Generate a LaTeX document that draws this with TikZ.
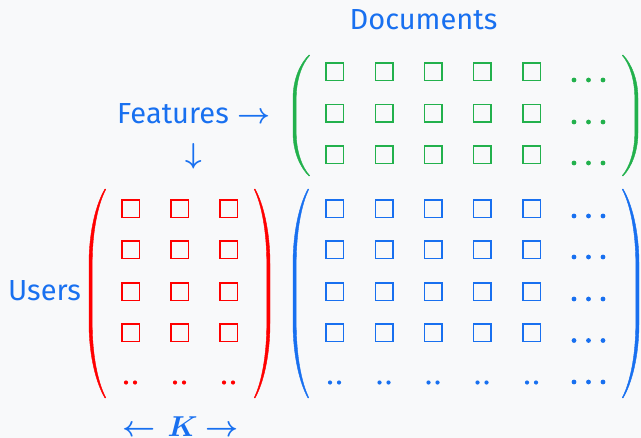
\documentclass[tikz,border=0pt]{standalone}
\usepackage{fontspec}
\setmainfont{Fira Sans}
\usepackage{bm}
\definecolor{bg}{HTML}{F8F9FA}
\definecolor{tblue}{RGB}{24,112,240}
\definecolor{tred}{RGB}{255,0,0}
\definecolor{tgreen}{RGB}{34,177,76}
\newcommand\mkparen[6]{% color, x of ends, x of extreme, y top, y bottom, signed thickness
  \fill[#1, draw=#1, line width=0.2pt, line join=round]
    (#2,#4) .. controls ({#2-0.55*(#2-#3)},{#4+0.07*(#5-#4)}) and (#3,{#4+0.2*(#5-#4)}) .. (#3,{#4+0.36*(#5-#4)})
    -- (#3,{#5-0.36*(#5-#4)})
    .. controls (#3,{#5-0.2*(#5-#4)}) and ({#2-0.55*(#2-#3)},{#5-0.07*(#5-#4)}) .. (#2,#5)
    -- ({#2+0.25*#6},{#5-0.3})
    .. controls ({#2-0.55*(#2-#3)+0.6*#6},{#5-0.07*(#5-#4)}) and ({#3+#6},{#5-0.2*(#5-#4)}) .. ({#3+#6},{#5-0.36*(#5-#4)})
    -- ({#3+#6},{#4+0.36*(#5-#4)})
    .. controls ({#3+#6},{#4+0.2*(#5-#4)}) and ({#2-0.55*(#2-#3)+0.6*#6},{#4+0.07*(#5-#4)}) .. ({#2+0.25*#6},{#4+0.3})
    -- cycle;}
\begin{document}
\begin{tikzpicture}[x=0.5pt,y=-0.5pt,
  lbl/.style={text=tblue, font=\fontsize{14.5}{17}\selectfont, inner sep=0pt, anchor=base},
  arr/.style={text=tblue, font=\fontsize{15.5}{17}\selectfont, inner sep=0pt, anchor=base},
  sq/.style={draw=#1, line width=0.75pt, minimum size=8.75pt, inner sep=0pt, shape=rectangle},
]
\fill[bg] (0,0) rectangle (641,438);
\useasboundingbox (0,0) rectangle (641,438);

% labels
\node[lbl] (docs) at (423.5,30) {Documents};
\node[lbl] (feat) at (173,124) {Features};
\node[arr] (featR) at (254,123.5) {$\bm{\rightarrow}$};
\node[arr] (featD) at (194,163) {$\bm{\downarrow}$};
\node[lbl] (users) at (44.5,300) {Users};
\node[arr] (kl) at (139.5,436.5) {$\bm{\leftarrow}$};
\node[lbl] (kk) at (182.5,436.5) {$\bm{K}$};
\node[arr] (kr) at (222,436.5) {$\bm{\rightarrow}$};

% red matrix (users)
\foreach \c/\x in {1/130.5,2/179.5,3/228.5}{
  \foreach \r/\y in {1/208.5,2/249.5,3/291.5,4/332.5}{
    \node[sq=tred] (u-\r-\c) at (\x,\y) {};
  }
  \fill[tred] ({\x-4.5},382.5) circle[radius=1.05pt] ({\x+4.5},382.5) circle[radius=1.05pt];
}
\mkparen{tred}{105}{89}{189}{398}{3.2}
\mkparen{tred}{255}{270}{189}{398}{-3.2}

% blue matrix
\foreach \c/\x in {1/334.5,2/384,3/433,4/482,5/531.5}{
  \foreach \r/\y in {1/208.5,2/249.5,3/291.5,4/332.5}{
    \node[sq=tblue] (b-\r-\c) at (\x,\y) {};
  }
  \fill[tblue] ({\x-4.5},382.5) circle[radius=1.05pt] ({\x+4.5},382.5) circle[radius=1.05pt];
}
\foreach \y in {216,257,299,340.5,382}{
  \fill[tblue] (574,\y) circle[radius=1.2pt] (588.5,\y) circle[radius=1.2pt] (603,\y) circle[radius=1.2pt];
}
\mkparen{tblue}{308}{293}{189}{398}{3.2}
\mkparen{tblue}{623}{639}{189}{398}{-3.2}

% green matrix
\foreach \c/\x in {1/334.5,2/384,3/433,4/482,5/531.5}{
  \foreach \r/\y in {1/72,2/113.5,3/155}{
    \node[sq=tgreen] (g-\r-\c) at (\x,\y) {};
  }
}
\foreach \y in {80,122,163}{
  \fill[tgreen] (574,\y) circle[radius=1.2pt] (588.5,\y) circle[radius=1.2pt] (603,\y) circle[radius=1.2pt];
}
\mkparen{tgreen}{309}{293}{55}{176}{3.2}
\mkparen{tgreen}{623}{638}{55}{176}{-3.2}
\end{tikzpicture}
\end{document}
